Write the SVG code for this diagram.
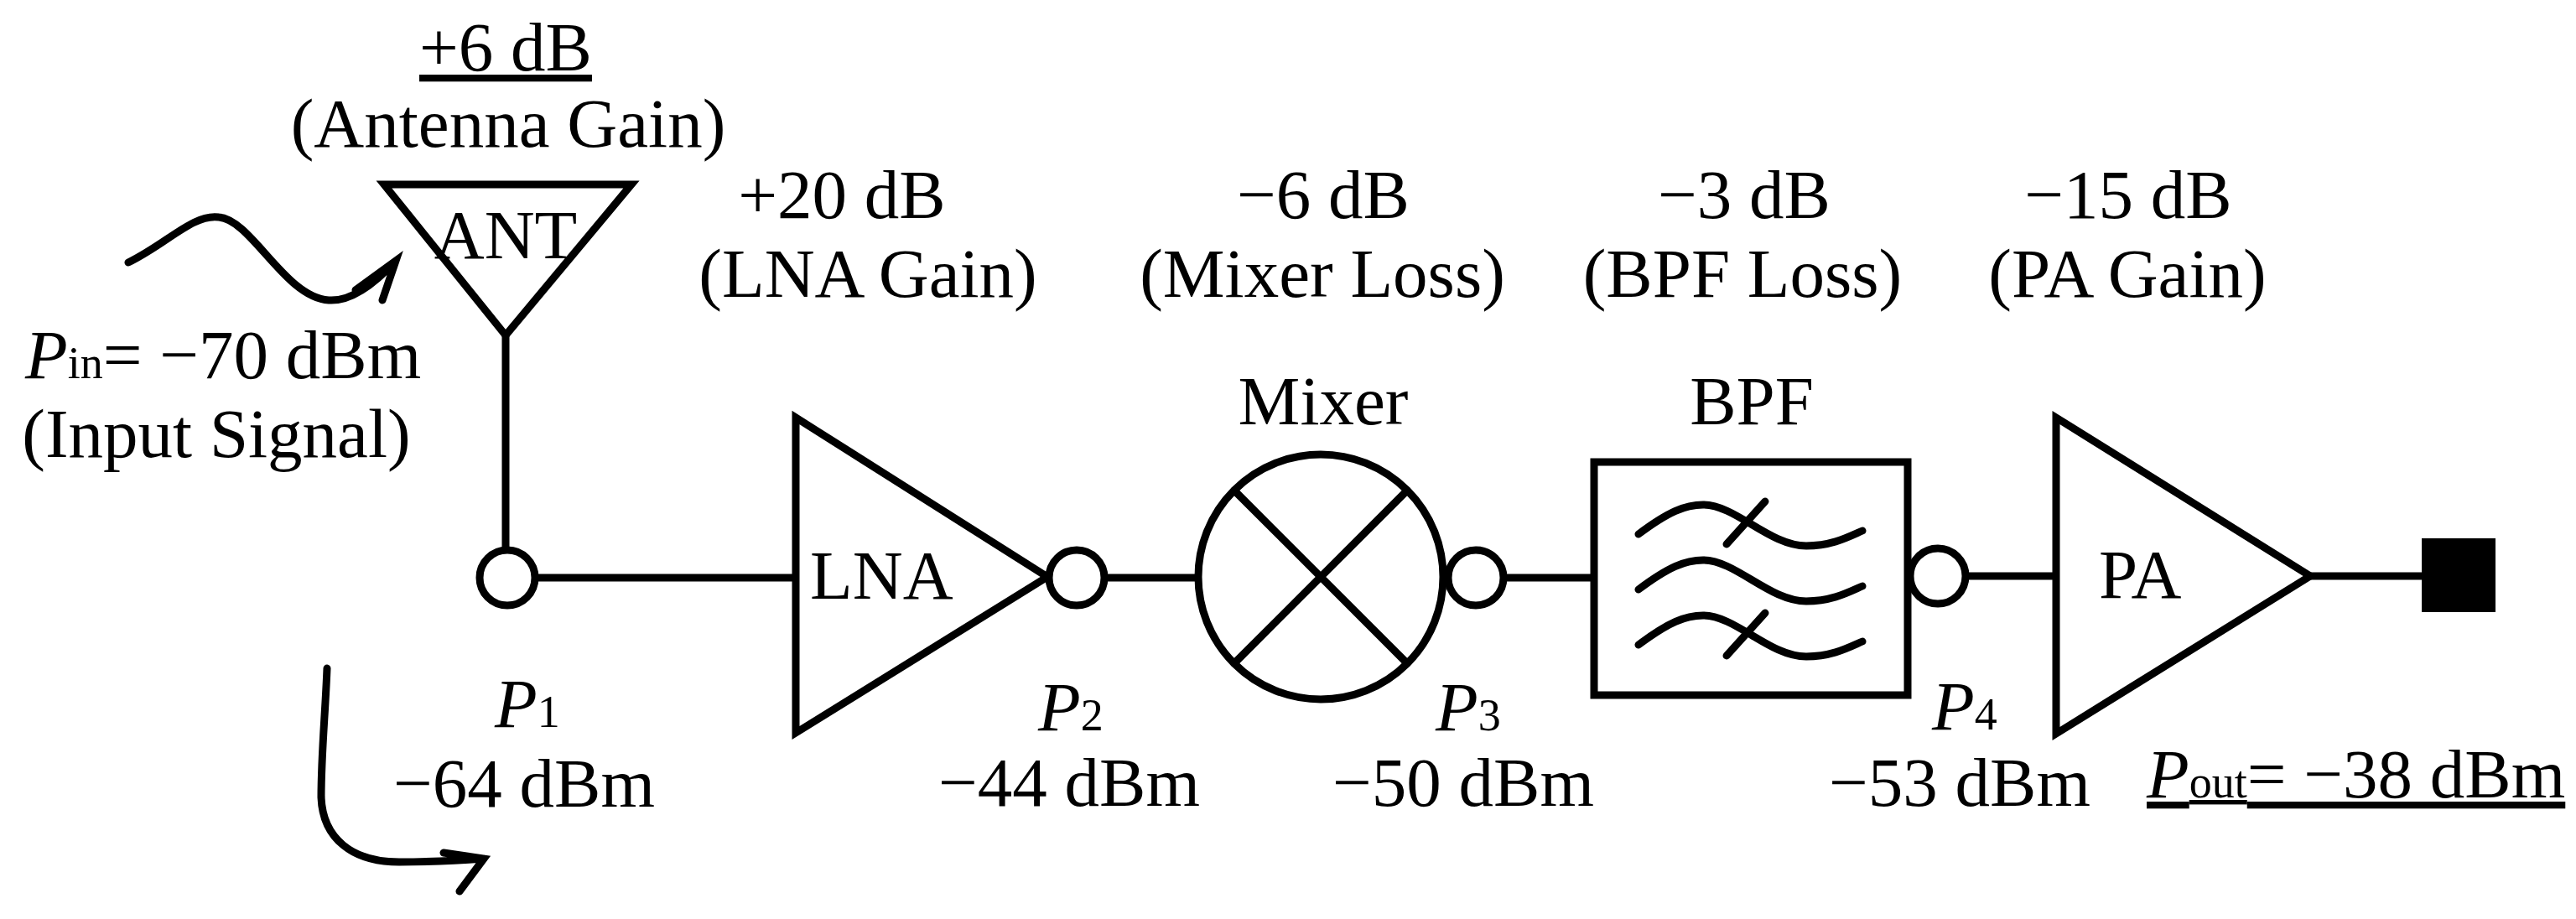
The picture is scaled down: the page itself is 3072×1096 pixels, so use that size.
<svg xmlns="http://www.w3.org/2000/svg" width="3072" height="1096" viewBox="0 0 3072 1096">
<style>
.s{fill:none;stroke:#000;stroke-width:9;stroke-linecap:round;stroke-linejoin:miter}
.w{fill:#fff;stroke:#000;stroke-width:9}
text{font-family:"Liberation Serif","Times New Roman",serif;font-size:83px;fill:#000}
.m{text-anchor:middle}
.i{font-style:italic}
.sub{font-size:54px}
</style>
<rect width="3072" height="1096" fill="#fff"/>
<g id="connectors">
<path class="s" d="M603 400 V656"/>
<path class="s" d="M638 689 H949"/>
<path class="s" d="M1319 689 H1429"/>
<path class="s" d="M1795 689 H1901"/>
<path class="s" d="M2345 687 H2452"/>
<path class="s" d="M2755 687 H2900"/>
<path class="s" d="M153 313 C200 290 230 255 261 259 C300 262 340 355 392 358 C420 360 450 335 472 311 M424 346 L472 311 L456 358"/>
<path class="s" d="M390 797 C388 850 383 900 383 951 C385 1000 420 1028 476 1028 C520 1028 550 1026 577 1024 M529 1017 L577 1024 L548 1063"/>
</g>
<g id="ant"><path class="s" d="M458 220 H753 L603 400 Z"/><text class="m" x="603" y="308">ANT</text></g>
<g id="p1"><circle class="w" cx="605" cy="689" r="33"/></g>
<g id="lna"><path class="w" d="M949 498 V874 L1249 688 Z"/><text x="966" y="714">LNA</text></g>
<g id="p2"><circle class="w" cx="1284" cy="689" r="33"/></g>
<g id="mixer"><circle class="w" cx="1575" cy="688" r="146"/><path class="s" d="M1472 585 L1678 791 M1678 585 L1472 791"/></g>
<g id="p3"><circle class="w" cx="1760" cy="689" r="33"/></g>
<g id="bpf"><rect class="w" x="1901" y="551" width="374" height="278"/>
<path class="s" d="M1954 637 C1990 610 2010 602 2031 602 C2070 602 2110 651 2154 651 C2185 651 2205 640 2221 633"/>
<path class="s" d="M1954 703 C1990 676 2010 668 2031 668 C2070 668 2110 717 2154 717 C2185 717 2205 706 2221 699"/>
<path class="s" d="M1954 769 C1990 742 2010 734 2031 734 C2070 734 2110 783 2154 783 C2185 783 2205 772 2221 765"/>
<path class="s" d="M2059 649 L2105 598 M2059 782 L2105 731"/></g>
<g id="p4"><circle class="w" cx="2311" cy="687" r="33"/></g>
<g id="pa"><path class="w" d="M2452 498 V875 L2755 687 Z"/><text x="2503" y="713">PA</text></g>
<g id="out"><rect x="2888" y="642" width="88" height="88" fill="#000"/></g>
<g id="labels">
<text class="m" x="603" y="84" text-decoration="underline">+6 dB</text>
<text class="m" x="606" y="175">(Antenna Gain)</text>
<text class="m" x="1004" y="260">+20 dB</text>
<text class="m" x="1035" y="354">(LNA Gain)</text>
<text class="m" x="1578" y="260">−6 dB</text>
<text class="m" x="1577" y="354">(Mixer Loss)</text>
<text class="m" x="2080" y="260">−3 dB</text>
<text class="m" x="2078" y="354">(BPF Loss)</text>
<text class="m" x="2538" y="260">−15 dB</text>
<text class="m" x="2537" y="354">(PA Gain)</text>
<text class="m" x="1578" y="506">Mixer</text>
<text class="m" x="2089" y="506">BPF</text>
<text x="30" y="451"><tspan class="i">P</tspan><tspan class="sub">in</tspan>= −70 dBm</text>
<text class="m" x="258" y="545">(Input Signal)</text>
<text x="590" y="867"><tspan class="i">P</tspan><tspan class="sub">1</tspan></text>
<text class="m" x="625" y="962">−64 dBm</text>
<text x="1238" y="871"><tspan class="i">P</tspan><tspan class="sub">2</tspan></text>
<text class="m" x="1275" y="961">−44 dBm</text>
<text x="1712" y="871"><tspan class="i">P</tspan><tspan class="sub">3</tspan></text>
<text class="m" x="1745" y="961">−50 dBm</text>
<text x="2304" y="870"><tspan class="i">P</tspan><tspan class="sub">4</tspan></text>
<text class="m" x="2337" y="961">−53 dBm</text>
<text x="2560" y="951" text-decoration="underline"><tspan class="i">P</tspan><tspan class="sub">out</tspan>= −38 dBm</text>
</g>
</svg>
